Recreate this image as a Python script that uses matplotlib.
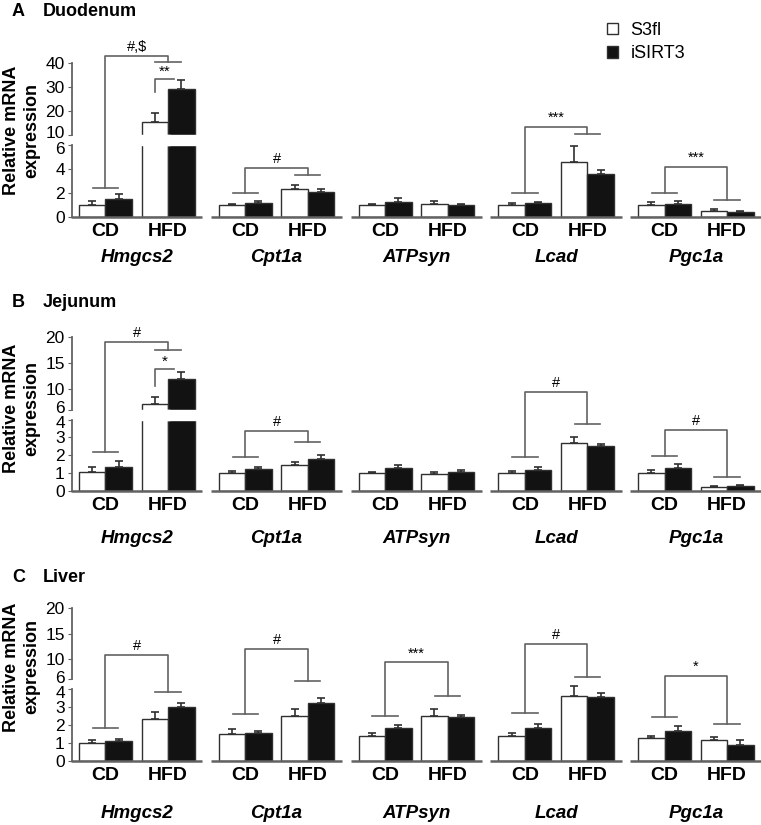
import numpy as np
import matplotlib
matplotlib.use("Agg")
import matplotlib.pyplot as plt
from matplotlib.patches import Patch
from matplotlib.transforms import ScaledTranslation

plt.rcParams['font.family'] = ['Liberation Sans', 'DejaVu Sans']

genes = ["Hmgcs2", "Cpt1a", "ATPsyn", "Lcad", "Pgc1a"]
diets = ["CD", "HFD"]
genotypes = ["S3fl", "iSIRT3"]

# bars per gene: S3fl CD, iSIRT3 CD, S3fl HFD, iSIRT3 HFD
duo_mean = [[1.0, 1.5, 15.5, 29.0],
            [1.0, 1.13, 2.3, 2.1],
            [1.0, 1.27, 1.1, 1.0],
            [1.0, 1.13, 4.6, 3.6],
            [1.0, 1.1, 0.5, 0.4]]
duo_sem = [[0.3, 0.4, 3.5, 3.9],
           [0.12, 0.2, 0.35, 0.2],
           [0.12, 0.3, 0.22, 0.05],
           [0.2, 0.14, 1.3, 0.3],
           [0.23, 0.22, 0.2, 0.08]]
# diet comparison: (CD line, top line, HFD line, label)
duo_sig = [(2.4, 42.9, 40.3, "#,$"), (2.03, 4.06, 3.5, "#"), None,
           (2.03, 13.3, 10.4, "***"), (2.03, 4.19, 1.42, "***")]
duo_inner = (28.0, 33.2, "**")
duo_ticks = [0, 2, 4, 6, 10, 20, 30, 40]

jej_mean = [[1.03, 1.31, 7.15, 11.9],
            [1.0, 1.22, 1.46, 1.8],
            [1.0, 1.28, 0.94, 1.07],
            [1.0, 1.15, 2.68, 2.53],
            [1.0, 1.26, 0.21, 0.26]]
jej_sem = [[0.28, 0.38, 1.4, 1.5],
           [0.13, 0.13, 0.14, 0.19],
           [0.05, 0.16, 0.13, 0.11],
           [0.13, 0.2, 0.32, 0.09],
           [0.17, 0.24, 0.04, 0.08]]
jej_sig = [(2.19, 19.1, 17.5, "#"), (1.91, 3.35, 2.74, "#"), None,
           (1.91, 9.5, 3.76, "#"), (1.97, 3.39, 0.75, "#")]
jej_inner = (10.6, 13.8, "*")
jej_ticks = [0, 1, 2, 3, 4, 6, 10, 15, 20]

liv_mean = [[1.02, 1.13, 2.35, 3.02],
            [1.51, 1.56, 2.53, 3.24],
            [1.41, 1.86, 2.53, 2.44],
            [1.41, 1.84, 3.63, 3.58],
            [1.27, 1.68, 1.16, 0.91]]
liv_sem = [[0.15, 0.1, 0.39, 0.22],
           [0.29, 0.13, 0.36, 0.28],
           [0.17, 0.13, 0.36, 0.15],
           [0.17, 0.24, 0.97, 0.2],
           [0.14, 0.29, 0.18, 0.26]]
liv_sig = [(1.86, 10.8, 3.83, "#"), (2.64, 11.9, 5.72, "#"), (2.51, 9.35, 3.65, "***"),
           (2.66, 12.9, 6.45, "#"), (2.46, 6.7, 2.07, "*")]
liv_ticks = [0, 1, 2, 3, 4, 6, 10, 15, 20]

W, H = 761, 825
LINE = "#626262"
EDGE = "#303030"
BLACK = "#121212"


def broken_scale(lo_top, hi_bot, lo_px, gap_px, hi_px):
    # value -> pixels above the baseline, with a squeezed gap at the break
    ys = [-1e4, 0, lo_top, hi_bot, 1e4]
    ps = [-1e4 * lo_px, 0, lo_top * lo_px, lo_top * lo_px + gap_px,
          lo_top * lo_px + gap_px + (1e4 - hi_bot) * hi_px]
    return (lambda y: np.interp(y, ys, ps)), (lambda p: np.interp(p, ps, ys))


fig = plt.figure(figsize=(W / 100, H / 100), dpi=100)

step = 5.275          # gene group spacing (bar widths)
offs = [0.5, 1.5, 2.86, 3.86]
xl, xr = -0.275, 25.74
ax_left, ax_right = 71.7, 761


def panel(base_px, brk, mean, sem, sig, inner, ticks, letter, name, title_y,
          ylab_y, cat_pad, gene_off):
    lo_top, hi_bot = brk[0], brk[1]
    fwd, inv = broken_scale(*brk)
    top = ticks[-1]
    h = float(fwd(top))
    ax = fig.add_axes([ax_left / W, (H - base_px) / H, (ax_right - ax_left) / W, h / H])
    ax.set_yscale("function", functions=(fwd, inv))
    ax.set_ylim(0, top)
    ax.set_xlim(xl, xr)
    for s in ax.spines.values():
        s.set_visible(False)
    ax.plot([xl, xl], [0, lo_top], color=LINE, lw=1.3, clip_on=False)
    ax.plot([xl, xl], [hi_bot, top], color=LINE, lw=1.3, clip_on=False)
    ax.set_yticks(ticks)
    ax.set_yticklabels([str(t) for t in ticks])
    ax.tick_params(axis="y", direction="out", length=3, color=LINE, labelsize=12.5, pad=2)
    # pull the two labels at the break slightly apart
    for t, tk in zip(ticks, ax.yaxis.get_major_ticks()):
        if t == lo_top:
            tk.label1.set_transform(tk.label1.get_transform() +
                                    ScaledTranslation(0, -2 / 72, fig.dpi_scale_trans))
        elif t == hi_bot:
            tk.label1.set_transform(tk.label1.get_transform() +
                                    ScaledTranslation(0, 2 / 72, fig.dpi_scale_trans))

    cats, catlab = [], []
    for gi, g in enumerate(genes):
        x0 = gi * step
        pos = [x0 + o for o in offs]
        cols = ["white", BLACK, "white", BLACK]
        ax.bar(pos, mean[gi], width=1.0, color=cols, edgecolor=EDGE, lw=1.0, zorder=2)
        ax.errorbar(pos, mean[gi], yerr=[np.zeros(4), sem[gi]], fmt="none",
                    ecolor=EDGE, elinewidth=1.2, capsize=3.2, capthick=1.2, zorder=1.5)
        for p, m in zip(pos, mean[gi]):
            if m > lo_top:
                ax.fill_between([p - 0.56, p + 0.56], lo_top, hi_bot, color="white", zorder=3)
        ax.plot([x0 - 0.3, x0 + 4.66], [0, 0], color=LINE, lw=1.8, clip_on=False, zorder=4,
                solid_capstyle="butt")
        cd, hfd = x0 + 1.0, x0 + 3.36
        cats += [cd, hfd]
        catlab += diets
        ax.annotate(g, xy=(x0 + 2.18, 0), xytext=(0, -gene_off), textcoords="offset pixels",
                    ha="center", va="center", fontsize=13.5, fontweight="bold",
                    fontstyle="italic", annotation_clip=False)
        if sig[gi] is not None:
            yc, yt, yh, lab = sig[gi]
            ax.plot([cd - 0.48, cd + 0.48], [yc, yc], color=LINE, lw=1.2, clip_on=False, zorder=5)
            ax.plot([cd, cd, hfd, hfd], [yc, yt, yt, yh], color=LINE, lw=1.2, clip_on=False, zorder=5)
            ax.plot([hfd - 0.48, hfd + 0.48], [yh, yh], color=LINE, lw=1.2, clip_on=False, zorder=5)
            ax.annotate(lab, xy=((cd + hfd) / 2, yt), xytext=(0, 2), textcoords="offset pixels",
                        ha="center", va="bottom", fontsize=10.5, annotation_clip=False)
        if gi == 0 and inner is not None:
            ylo, yhi, lab = inner
            xw = pos[2]
            ax.plot([xw, xw, xw + 0.72], [ylo, yhi, yhi], color=LINE, lw=1.2, clip_on=False, zorder=5)
            ax.annotate(lab, xy=(xw + 0.36, yhi), xytext=(0, 1), textcoords="offset pixels",
                        ha="center", va="bottom", fontsize=11, annotation_clip=False)

    ax.set_xticks(cats)
    ax.set_xticklabels(catlab, fontsize=14, fontweight="bold")
    ax.tick_params(axis="x", length=0, pad=cat_pad)

    fig.text(12 / W, 1 - title_y / H, letter, fontsize=13, fontweight="bold", va="center")
    fig.text(43 / W, 1 - title_y / H, name, fontsize=13, fontweight="bold", va="center")
    fig.text(22 / W, 1 - ylab_y / H, "Relative mRNA\nexpression", rotation=90, fontsize=13,
             fontweight="bold", ha="center", va="center", multialignment="center",
             linespacing=1.25)
    return ax


panel(217, (6, 10, 12.0, 10.0, 2.4), duo_mean, duo_sem, duo_sig, duo_inner, duo_ticks,
      "A", "Duodenum", 12, 130, 4, 41)
panel(490.7, (4, 6, 17.8, 9.5, 5.2), jej_mean, jej_sem, jej_sig, jej_inner, jej_ticks,
      "B", "Jejunum", 303, 408, 4.5, 48)
panel(761, (4, 6, 17.9, 10.0, 5.07), liv_mean, liv_sem, liv_sig, None, liv_ticks,
      "C", "Liver", 578, 667, 4.5, 53)

handles = [Patch(facecolor="white", edgecolor=EDGE, lw=1.0),
           Patch(facecolor=BLACK, edgecolor=EDGE, lw=1.0)]
fig.legend(handles, genotypes, loc="upper left", bbox_to_anchor=(607 / W, 1 - 22 / H),
           frameon=False, fontsize=13, handlelength=0.6, handleheight=0.6,
           handletextpad=0.7, labelspacing=0.35, borderpad=0, borderaxespad=0)

fig.savefig("out.png", dpi=100)
